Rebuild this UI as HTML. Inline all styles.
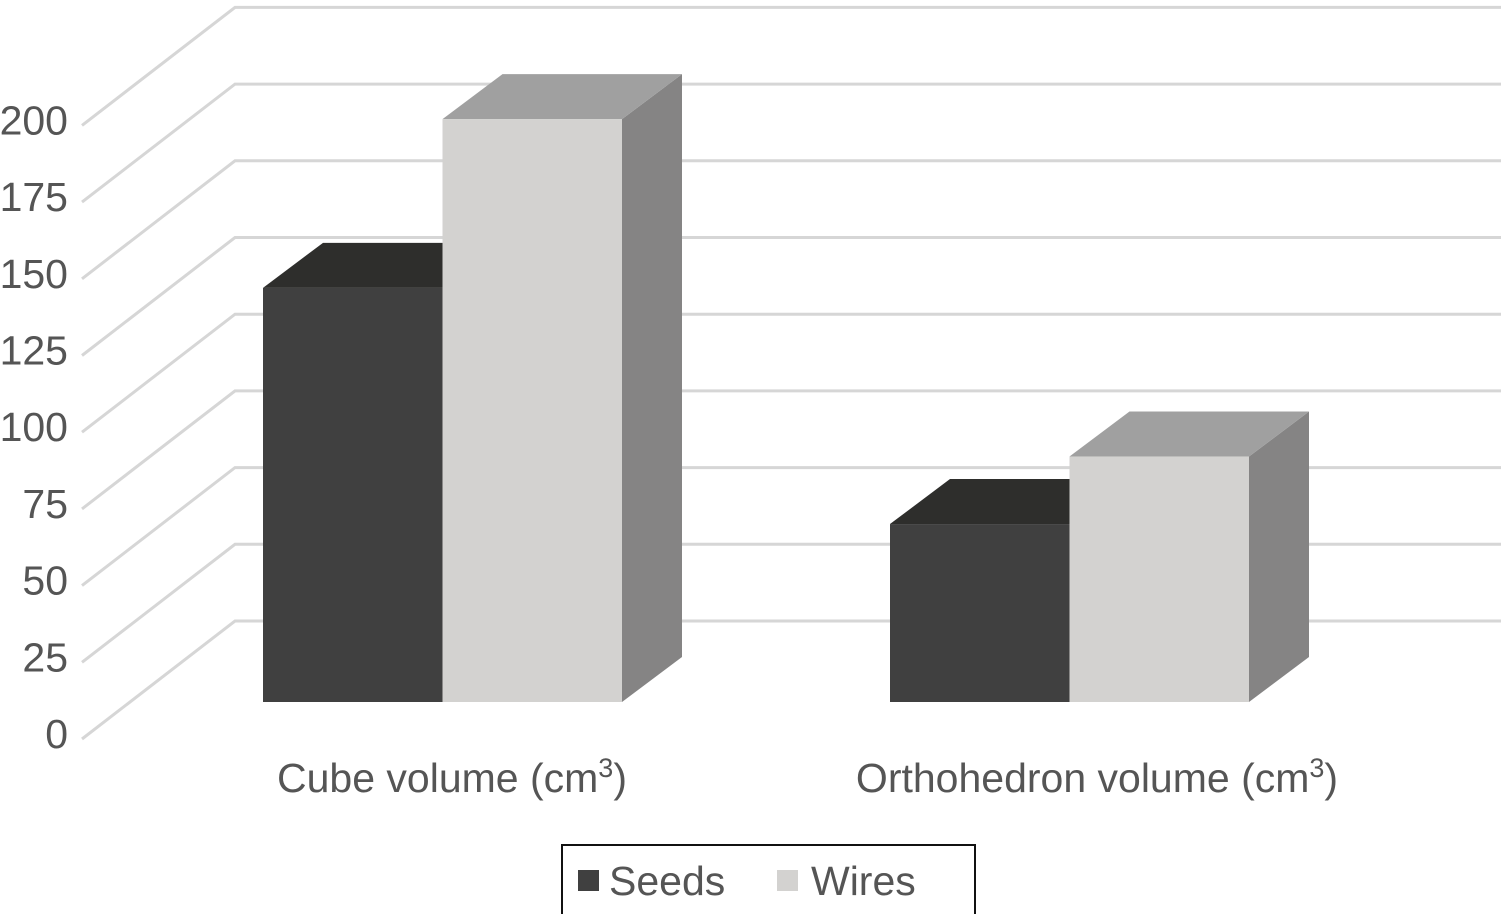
<!DOCTYPE html>
<html><head><meta charset="utf-8"><style>
html,body{margin:0;padding:0;background:#fff;}
svg{display:block;font-family:"Liberation Sans",sans-serif;}
</style></head><body>
<svg id="chart" width="1501" height="914" viewBox="0 0 1501 914">
<g id="grid"></g>
<g id="ylabels"></g>
<g id="bars"></g>
<g id="xlabels"></g>
<g>
<rect x="562" y="845" width="413" height="80" fill="#fff" stroke="#111" stroke-width="2"/>
<rect x="578" y="870" width="21" height="21" fill="#404040"/>
<text x="609" y="895" font-size="41" fill="#555">Seeds</text>
<rect x="777" y="870" width="21" height="21" fill="#d3d2d0"/>
<text x="811" y="895" font-size="41" fill="#555">Wires</text>
</g>
</svg>
<script>
const categories = ["Cube volume", "Orthohedron volume"];
const seeds = [135, 58];
const wires = [190, 80];
const yTicks = [0, 25, 50, 75, 100, 125, 150, 175, 200];

const NS = "http://www.w3.org/2000/svg";
const pxPerUnit = 76.7 / 25;
function backY(v){ return 621 - v * pxPerUnit; }
function barY(v){ return 702 - v * pxPerUnit; }
function mk(tag, attrs, parent){
  const e = document.createElementNS(NS, tag);
  for (const k in attrs) e.setAttribute(k, attrs[k]);
  parent.appendChild(e);
  return e;
}
const grid = document.getElementById('grid');
const yl = document.getElementById('ylabels');
yTicks.forEach(t => {
  const yb = backY(t);
  const p = mk('polyline', {points: `82,${yb+118} 235,${yb} 1501,${yb}`, fill:'none', stroke:'#d6d6d6', 'stroke-width':3}, grid);
  
  
  const tx = mk('text', {x:68, y:yb+118+9, 'text-anchor':'end', 'font-size':41, fill:'#555'}, yl);
  tx.textContent = t;
  
  
});
const bars = document.getElementById('bars');
const groupX = [263, 890];
const bw = 179.5, dx = 60, dy = 45;
function box(x, v, front, top, side, name){
  const y = barY(v);
  const g = mk('g', {}, bars);
  
  
  mk('polygon', {points:`${x+bw},${y} ${x+bw+dx},${y-dy} ${x+bw+dx},${702-dy} ${x+bw},702`, fill:side}, g);
  mk('polygon', {points:`${x},${y} ${x+dx},${y-dy} ${x+bw+dx},${y-dy} ${x+bw},${y}`, fill:top}, g);
  mk('rect', {x:x, y:y, width:bw, height:702-y, fill:front}, g);
}
categories.forEach((c, i) => {
  box(groupX[i], seeds[i], '#404040', '#2e2e2c', '#2e2e2c', 'bar-seeds-' + i);
  box(groupX[i] + bw, wires[i], '#d3d2d0', '#a0a0a0', '#858484', 'bar-wires-' + i);
});
const xl = document.getElementById('xlabels');
const labelX = [452, 1097];
categories.forEach((c, i) => {
  const t = mk('text', {x:labelX[i], y:792, 'text-anchor':'middle', 'font-size':41, fill:'#555'}, xl);
  
  
  t.appendChild(document.createTextNode(c + ' (cm'));
  const s = mk('tspan', {'font-size':27, dy:-15}, t);
  s.textContent = '3';
  const s2 = mk('tspan', {dy:15}, t);
  s2.textContent = ')';
});
</script>
</body></html>
